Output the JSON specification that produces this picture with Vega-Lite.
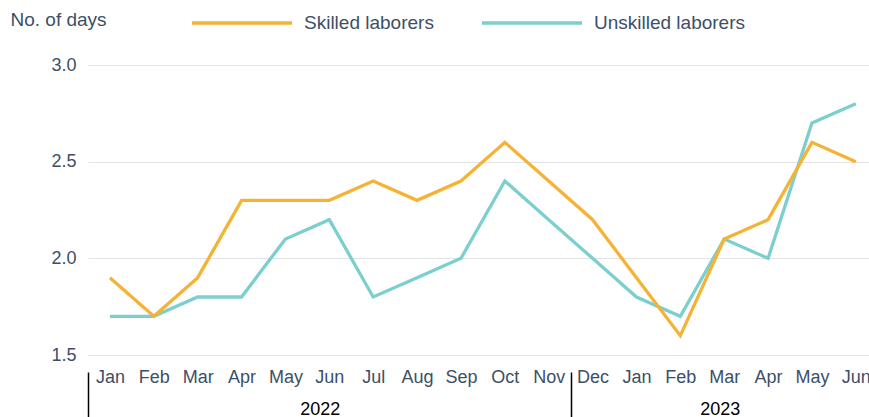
{
  "$schema": "https://vega.github.io/schema/vega-lite/v6.json",
  "width": 781,
  "height": 290,
  "autosize": {"type": "none"},
  "padding": {"left": 88, "top": 65, "right": 0, "bottom": 62},
  "background": "white",
  "config": {
    "font": "Liberation Sans",
    "view": {"stroke": null}
  },
  "data": {
    "values": [
      {"i": 0, "month": "Jan", "year": 2022, "series": "Unskilled laborers", "value": 1.7},
      {"i": 1, "month": "Feb", "year": 2022, "series": "Unskilled laborers", "value": 1.7},
      {"i": 2, "month": "Mar", "year": 2022, "series": "Unskilled laborers", "value": 1.8},
      {"i": 3, "month": "Apr", "year": 2022, "series": "Unskilled laborers", "value": 1.8},
      {"i": 4, "month": "May", "year": 2022, "series": "Unskilled laborers", "value": 2.1},
      {"i": 5, "month": "Jun", "year": 2022, "series": "Unskilled laborers", "value": 2.2},
      {"i": 6, "month": "Jul", "year": 2022, "series": "Unskilled laborers", "value": 1.8},
      {"i": 7, "month": "Aug", "year": 2022, "series": "Unskilled laborers", "value": 1.9},
      {"i": 8, "month": "Sep", "year": 2022, "series": "Unskilled laborers", "value": 2.0},
      {"i": 9, "month": "Oct", "year": 2022, "series": "Unskilled laborers", "value": 2.4},
      {"i": 10, "month": "Nov", "year": 2022, "series": "Unskilled laborers", "value": 2.2},
      {"i": 11, "month": "Dec", "year": 2022, "series": "Unskilled laborers", "value": 2.0},
      {"i": 12, "month": "Jan", "year": 2023, "series": "Unskilled laborers", "value": 1.8},
      {"i": 13, "month": "Feb", "year": 2023, "series": "Unskilled laborers", "value": 1.7},
      {"i": 14, "month": "Mar", "year": 2023, "series": "Unskilled laborers", "value": 2.1},
      {"i": 15, "month": "Apr", "year": 2023, "series": "Unskilled laborers", "value": 2.0},
      {"i": 16, "month": "May", "year": 2023, "series": "Unskilled laborers", "value": 2.7},
      {"i": 17, "month": "Jun", "year": 2023, "series": "Unskilled laborers", "value": 2.8},
      {"i": 0, "month": "Jan", "year": 2022, "series": "Skilled laborers", "value": 1.9},
      {"i": 1, "month": "Feb", "year": 2022, "series": "Skilled laborers", "value": 1.7},
      {"i": 2, "month": "Mar", "year": 2022, "series": "Skilled laborers", "value": 1.9},
      {"i": 3, "month": "Apr", "year": 2022, "series": "Skilled laborers", "value": 2.3},
      {"i": 4, "month": "May", "year": 2022, "series": "Skilled laborers", "value": 2.3},
      {"i": 5, "month": "Jun", "year": 2022, "series": "Skilled laborers", "value": 2.3},
      {"i": 6, "month": "Jul", "year": 2022, "series": "Skilled laborers", "value": 2.4},
      {"i": 7, "month": "Aug", "year": 2022, "series": "Skilled laborers", "value": 2.3},
      {"i": 8, "month": "Sep", "year": 2022, "series": "Skilled laborers", "value": 2.4},
      {"i": 9, "month": "Oct", "year": 2022, "series": "Skilled laborers", "value": 2.6},
      {"i": 10, "month": "Nov", "year": 2022, "series": "Skilled laborers", "value": 2.4},
      {"i": 11, "month": "Dec", "year": 2022, "series": "Skilled laborers", "value": 2.2},
      {"i": 12, "month": "Jan", "year": 2023, "series": "Skilled laborers", "value": 1.9},
      {"i": 13, "month": "Feb", "year": 2023, "series": "Skilled laborers", "value": 1.6},
      {"i": 14, "month": "Mar", "year": 2023, "series": "Skilled laborers", "value": 2.1},
      {"i": 15, "month": "Apr", "year": 2023, "series": "Skilled laborers", "value": 2.2},
      {"i": 16, "month": "May", "year": 2023, "series": "Skilled laborers", "value": 2.6},
      {"i": 17, "month": "Jun", "year": 2023, "series": "Skilled laborers", "value": 2.5}
    ]
  },
  "resolve": {"axis": {"x": "independent"}},
  "layer": [
    {
      "mark": {"type": "line", "strokeWidth": 3.3, "strokeCap": "butt"},
      "encoding": {
        "x": {
          "field": "i", "type": "quantitative",
          "scale": {"domain": [-0.5, 17.3], "nice": false, "zero": false},
          "axis": {
            "orient": "bottom",
            "title": null, "grid": false, "domain": false, "ticks": false,
            "values": [0,1,2,3,4,5,6,7,8,9,10,11,12,13,14,15,16,17],
            "labelExpr": "['Jan','Feb','Mar','Apr','May','Jun','Jul','Aug','Sep','Oct','Nov','Dec','Jan','Feb','Mar','Apr','May','Jun'][datum.value]",
            "labelFontSize": 18, "labelColor": "#3d4f66",
            "labelBaseline": "alphabetic", "labelPadding": 27,
            "labelOverlap": false, "labelFlush": false, "labelBound": false
          }
        },
        "y": {
          "field": "value", "type": "quantitative",
          "scale": {"domain": [1.5, 3.0], "nice": false, "zero": false},
          "axis": {
            "values": [1.5, 2.0, 2.5, 3.0], "format": ".1f",
            "domain": false, "ticks": false,
            "gridColor": "#e3e3e3", "gridWidth": 1.2,
            "labelFontSize": 18, "labelColor": "#3d4f66", "labelPadding": 12,
            "title": "No. of days", "titleAngle": 0, "titleAlign": "left",
            "titleBaseline": "alphabetic", "titleX": -78, "titleY": -40,
            "titleFontSize": 19, "titleFontWeight": "normal", "titleColor": "#3d4f66"
          }
        },
        "color": {
          "field": "series", "type": "nominal",
          "scale": {"domain": ["Skilled laborers", "Unskilled laborers"], "range": ["#F5B335", "#7CCFCF"]},
          "legend": {
            "title": null, "orient": "none", "direction": "horizontal",
            "legendX": 102, "legendY": -94,
            "symbolType": "stroke", "symbolSize": 10000, "symbolStrokeWidth": 3.5,
            "labelFontSize": 19, "labelColor": "#3d4f66", "labelOffset": 10,
            "columnPadding": 41
          }
        },
        "order": {"field": "series", "sort": "descending"}
      }
    },
    {
      "mark": {"type": "point", "opacity": 0},
      "encoding": {
        "x": {
          "field": "i", "type": "quantitative",
          "axis": {
            "orient": "bottom", "title": null, "grid": false, "domain": false,
            "values": [-0.5, 10.5], "labels": false,
            "ticks": true, "tickSize": 50, "tickColor": "#000000", "tickWidth": 1.5,
            "offset": 17
          }
        },
        "y": {"field": "value", "type": "quantitative"}
      }
    },
    {
      "mark": {"type": "point", "opacity": 0},
      "encoding": {
        "x": {
          "field": "i", "type": "quantitative",
          "axis": {
            "orient": "bottom", "title": null, "grid": false, "domain": false, "ticks": false,
            "values": [4.78, 13.9],
            "labelExpr": "datum.value < 10 ? '2022' : '2023'",
            "labelFontSize": 18, "labelColor": "#000000",
            "labelBaseline": "alphabetic", "labelPadding": 59,
            "labelOverlap": false, "labelFlush": false, "labelBound": false
          }
        },
        "y": {"field": "value", "type": "quantitative"}
      }
    }
  ]
}
